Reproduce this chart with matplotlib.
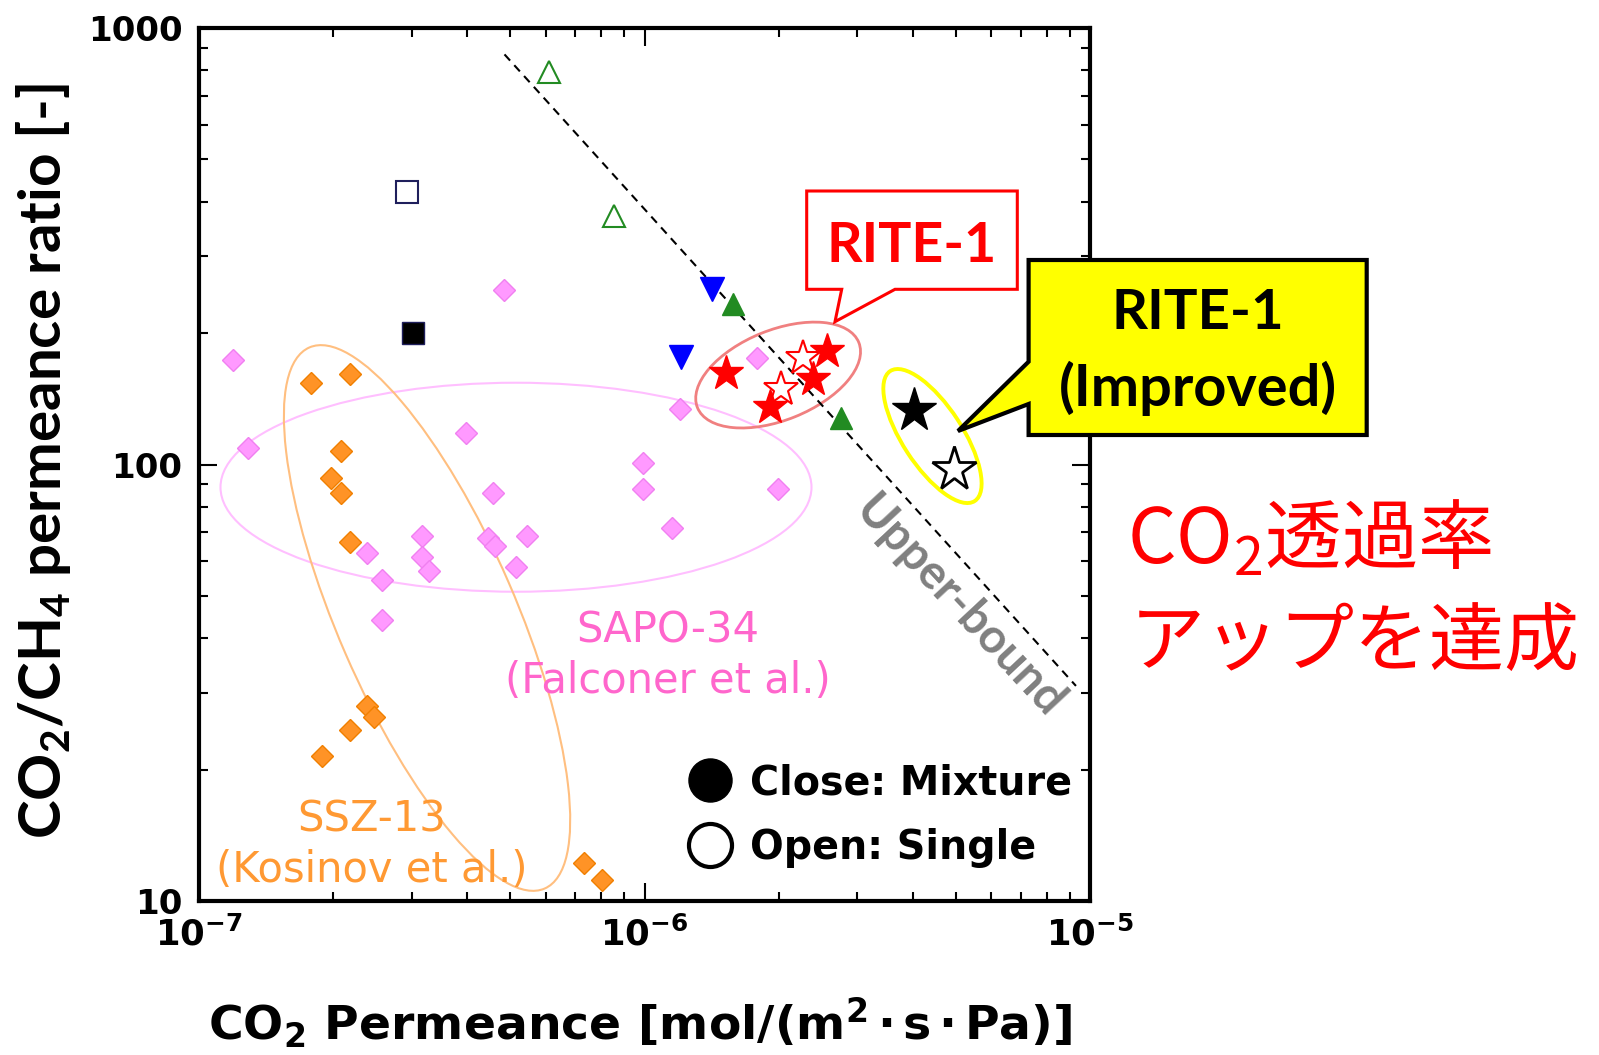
import numpy as np
import matplotlib
matplotlib.use("Agg")
import matplotlib.pyplot as plt
from matplotlib.patches import Ellipse, Polygon
from matplotlib.lines import Line2D
from matplotlib.ticker import NullFormatter

plt.rcParams['font.family'] = ['DejaVu Sans', 'Noto Sans CJK JP']
plt.rcParams['mathtext.fontset'] = 'dejavusans'

# SAPO-34 (Falconer et al.)
sapo_x = [1.19e-7, 1.29e-7, 4.85e-7, 3.97e-7, 1.20e-6, 1.79e-6, 9.94e-7, 9.94e-7, 4.56e-7, 1.99e-6, 1.15e-6,
          3.17e-7, 4.45e-7, 4.61e-7, 5.46e-7, 2.38e-7, 3.17e-7, 3.28e-7, 5.15e-7, 2.58e-7, 2.58e-7]
sapo_y = [174, 109, 251, 118, 134, 175, 101, 88, 86, 88, 71.6,
          68.6, 67.7, 65.1, 68.6, 62.6, 61.5, 57.1, 58.3, 54.4, 44.0]

# SSZ-13 (Kosinov et al.)
ssz_x = [1.78e-7, 2.18e-7, 2.08e-7, 1.98e-7, 2.08e-7, 2.18e-7, 2.38e-7, 2.47e-7, 2.18e-7, 1.89e-7, 7.31e-7, 8.02e-7]
ssz_y = [153.5, 161, 107.5, 93.2, 86.2, 66.5, 27.9, 26.4, 24.7, 21.5, 12.2, 11.2]

tri_open_x = [6.11e-7, 8.53e-7]
tri_open_y = [792, 371]
tri_fill_x = [1.58e-6, 2.76e-6]
tri_fill_y = [233, 128]
tri_down_x = [1.42e-6, 1.21e-6]
tri_down_y = [253, 176]
sq_open_x = [2.93e-7]
sq_open_y = [422]
sq_fill_x = [3.02e-7]
sq_fill_y = [200]

rite_mix_x = [1.52e-6, 1.91e-6, 2.39e-6, 2.57e-6]
rite_mix_y = [162, 135.6, 157, 182]
rite_single_x = [2.27e-6, 2.03e-6]
rite_single_y = [175, 149]
impr_mix_x = [4.03e-6]
impr_mix_y = [133]
impr_single_x = [4.95e-6]
impr_single_y = [97.5]

ub_x = [4.85e-7, 9.3e-6]
ub_y = [870, 31.1]

xticks = [1e-7, 1e-6, 1e-5]
xtick_labels = [r'$\mathregular{10^{-7}}$', r'$\mathregular{10^{-6}}$', r'$\mathregular{10^{-5}}$']
yticks = [10, 100, 1000]
ytick_labels = ['10', '100', '1000']

W, H = 1599, 1055
fig = plt.figure(figsize=(W / 100, H / 100), dpi=100)
pos = [199 / W, 1 - 901 / H, 891 / W, 873 / H]
ax = fig.add_axes(pos)
ax.set_zorder(2)
ax.patch.set_alpha(0)
ax.set_xscale('log')
ax.set_yscale('log')
ax.set_xlim(1e-7, 1e-5)
ax.set_ylim(10, 1000)

ax.plot(ub_x, ub_y, color='black', lw=1.5, ls=(0, (4, 3)))

ax.plot(ssz_x, ssz_y, 'D', ms=11.5, mfc='#FF9326', mec='#F07F00', mew=1, ls='none')
ax.plot(sapo_x, sapo_y, 'D', ms=11.5, mfc='#FF99FF', mec='#F080F0', mew=1, ls='none')
ax.plot(tri_open_x, tri_open_y, '^', ms=16, mfc='white', mec='#228B22', mew=1.5, ls='none')
ax.plot(tri_fill_x, tri_fill_y, '^', ms=16, color='#228B22', ls='none')
ax.plot(tri_down_x, tri_down_y, 'v', ms=17, color='#0000FF', ls='none')
ax.plot(sq_open_x, sq_open_y, 's', ms=16.5, mfc='white', mec='#1F1F5C', mew=1.5, ls='none')
ax.plot(sq_fill_x, sq_fill_y, 's', ms=16.5, mfc='black', mec='#1F1F5C', mew=1, ls='none')
ax.plot(rite_single_x, rite_single_y, '*', ms=26, mfc='white', mec='#FF0000', mew=1.5, ls='none')
ax.plot(rite_mix_x, rite_mix_y, '*', ms=26, color='#FF0000', ls='none')
ax.plot(impr_mix_x, impr_mix_y, '*', ms=33, color='black', ls='none')
ax.plot(impr_single_x, impr_single_y, '*', ms=33, mfc='white', mec='black', mew=2, ls='none')

ax.set_xticks(xticks)
ax.set_xticklabels(xtick_labels, fontsize=25.5, fontweight='bold', family='DejaVu Sans')
ax.set_yticks(yticks)
ax.set_yticklabels(ytick_labels, fontsize=24.5, fontweight='bold', family='DejaVu Sans')
ax.xaxis.set_minor_formatter(NullFormatter())
ax.yaxis.set_minor_formatter(NullFormatter())
ax.tick_params(which='both', direction='in', top=True, right=True, width=1.5)
ax.tick_params(which='major', length=13)
ax.tick_params(which='minor', length=6.5)
ax.tick_params(axis='x', which='major', pad=11)
ax.tick_params(axis='y', which='major', pad=12)
for sp in ax.spines.values():
    sp.set_linewidth(3)

# group labels
ax.text(1.13e-6, 39.1, 'SAPO-34', color='#FF66CC', fontsize=30, ha='center', va='baseline')
ax.text(1.13e-6, 30.0, '(Falconer et al.)', color='#FF66CC', fontsize=30, ha='center', va='baseline')
ax.text(2.445e-7, 14.4, 'SSZ-13', color='#FF9933', fontsize=30, ha='center', va='baseline')
ax.text(2.445e-7, 11.07, '(Kosinov et al.)', color='#FF9933', fontsize=30, ha='center', va='baseline')
ax.text(5.1e-6, 47.3, 'Upper-bound', color='#808080', fontsize=34, family='Lato', fontweight='bold',
        rotation=-47, ha='center', va='center', rotation_mode='anchor')

handles = [Line2D([], [], marker='o', ms=31, color='black', ls='none'),
           Line2D([], [], marker='o', ms=31, mfc='white', mec='black', mew=3, ls='none')]
ax.legend(handles, ['Close: Mixture', 'Open: Single'], loc='upper left', bbox_to_anchor=(0.5517, 0.158),
          frameon=False, handlelength=1.0, handletextpad=0.5, borderpad=0, borderaxespad=0,
          labelspacing=0.62, prop=dict(family='DejaVu Sans', weight='bold', size=28.5))

# ellipses around groups (sizes in pixels)
ax_e = fig.add_axes(pos)
ax_e.set_zorder(1)
ax_e.set_xlim(0, 891)
ax_e.set_ylim(0, 873)
ax_e.axis('off')
to_px = ax_e.transData.inverted()
ellipses = [
    ((5.147e-7, 88.7), 591, 209, 0, '#FFBFFF', 1.5),
    ((3.25e-7, 44.5), 590, 178, -66.5, '#FFBF80', 1.5),
    ((1.995e-6, 160.3), 174, 90, 22, '#F08080', 2),
    ((4.43e-6, 116.2), 155, 60, -57, '#FFFF00', 2.8),
]
for c, w, h, ang, col, lw in ellipses:
    cx, cy = to_px.transform(ax.transData.transform(c))
    ax_e.add_patch(Ellipse((cx, cy), w, h, angle=ang, fill=False, edgecolor=col, lw=lw))

# callouts in pixel space
ax_o = fig.add_axes([0, 0, 1, 1])
ax_o.set_zorder(3)
ax_o.set_xlim(0, W)
ax_o.set_ylim(H, 0)
ax_o.axis('off')
ax_o.patch.set_alpha(0)

red_box = [(806.7, 191), (1017.3, 191), (1017.3, 289.3), (895, 289.3), (835, 321.7),
           (841.7, 289.3), (806.7, 289.3)]
ax_o.add_patch(Polygon(red_box, closed=True, facecolor='white', edgecolor='#FF0000', lw=2.2))
ax_o.text(911.5, 261.7, 'RITE-1', color='#FF0000', fontsize=40, family='Lato', fontweight='bold',
          ha='center', va='baseline')

yel_box = [(1028.6, 260), (1366.7, 260), (1366.7, 435), (1028.6, 435), (1028.6, 404),
           (958, 431), (1028.6, 361.7)]
ax_o.add_patch(Polygon(yel_box, closed=True, facecolor='#FFFF00', edgecolor='black', lw=3))
ax_o.text(1197.6, 329.3, 'RITE-1', color='black', fontsize=40.5, family='Lato', fontweight='bold',
          ha='center', va='baseline')
ax_o.text(1197.6, 405.7, '(Improved)', color='black', fontsize=41.5, family='Lato', fontweight='bold',
          ha='center', va='baseline')

# axis labels
fig.text(640 / W, 1 - 1040 / H, r'$\mathregular{CO_2}$ Permeance [mol/(m$^\mathregular{2}\,$·$\,$s$\,$·$\,$Pa)]',
         fontsize=34, fontweight='bold', family='DejaVu Sans', ha='center', va='baseline')
fig.text(44 / W, 1 - 461 / H, r'$\mathregular{CO_2}$/$\mathregular{CH_4}$ permeance ratio [-]',
         fontsize=42, fontweight='bold', family='Lato', rotation=90, ha='center', va='center')

# Japanese note
fig.text(1127 / W, 1 - 563 / H, r'$\mathregular{CO_2}$透過率', color='#FF0000', fontsize=55,
         family='Noto Sans CJK JP', ha='left', va='baseline')
fig.text(1130 / W, 1 - 665 / H, 'アップを達成', color='#FF0000', fontsize=54,
         family='Noto Sans CJK JP', ha='left', va='baseline')

fig.savefig('out.png', dpi=100, facecolor='white')
